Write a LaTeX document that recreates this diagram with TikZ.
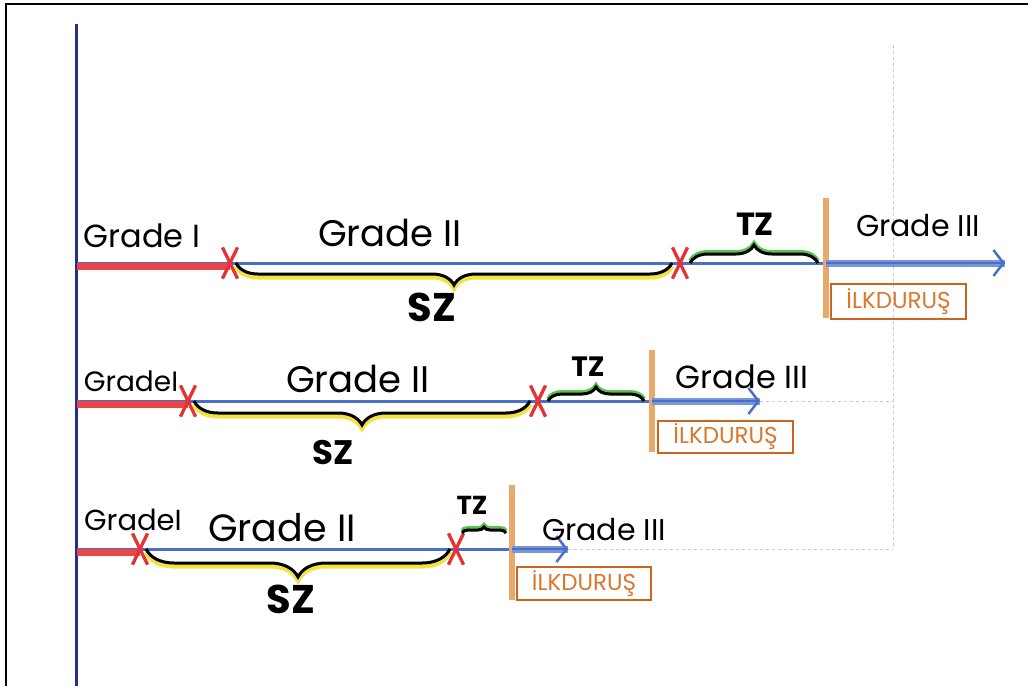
\documentclass[tikz,border=0pt]{standalone}
\usepackage{fontspec}
\setmainfont{Poppins}
\usepackage{tikz}
\usetikzlibrary{positioning, arrows.meta, shapes.misc, decorations.pathreplacing}

\definecolor{axisblue}{RGB}{40,45,140}
\definecolor{lineblue}{RGB}{74,111,200}
\definecolor{bandblue}{RGB}{120,150,215}
\definecolor{crossred}{RGB}{232,50,50}
\definecolor{bandred}{RGB}{235,70,70}
\definecolor{barorange}{RGB}{233,169,107}
\definecolor{boxorange}{RGB}{205,100,30}
\definecolor{textorange}{RGB}{215,120,45}
\definecolor{hlgreen}{RGB}{90,195,75}
\definecolor{hlyellow}{RGB}{242,227,64}
\definecolor{paperline}{RGB}{205,195,220}

\newcommand{\labelsize}[1]{\fontsize{#1}{#1}\selectfont}

\begin{document}
\begin{tikzpicture}[
        x=1pt, y=-1pt,
        gradelabel/.style={
            font=\labelsize{#1},
            inner sep=0pt
        },
        zonelabel/.style={
            font=\labelsize{#1}\bfseries,
            inner sep=0pt
        },
        crossmark/.style={
            cross out,
            draw=crossred,
            line width=3pt,
            minimum width=12pt,
            minimum height=28pt,
            inner sep=0pt
        },
        redline/.style={
            draw=bandred,
            line width=7pt,
            transform canvas={yshift=-3pt}
        },
        stageline/.style={
            draw=lineblue,
            line width=3pt
        },
        szbrace/.style={
            decorate,
            decoration={brace, mirror, amplitude=#1},
            draw=black,
            line width=3pt,
            preaction={draw=hlyellow, line width=5pt,
                transform canvas={yshift=-3pt}}
        },
        tzbrace/.style={
            decorate,
            decoration={brace, amplitude=#1},
            draw=black,
            line width=3pt,
            preaction={draw=hlgreen, line width=4pt,
                transform canvas={yshift=2pt}}
        },
        stopbar/.style={
            draw=barorange,
            line width=6pt
        },
        stopbox/.style={
            rectangle,
            draw=boxorange,
            line width=2pt,
            anchor=north west,
            text=textorange,
            font=\labelsize{23},
            inner sep=2pt
        },
        gradearrow/.style={
            draw=bandblue,
            line width=7pt,
            postaction={draw=lineblue, line width=2.5pt,
                -{Straight Barb[length=10pt, width=26pt]}}
        }
    ]

    \useasboundingbox (0,0) rectangle (1028,686);

    % Rahmen und Achse

    \draw[line width=2.5pt] (6,686) -- (6,4) -- (1028,4);
    \coordinate (axistop) at (76,24);
    \coordinate (axisbottom) at (76,686);
    \draw[draw=axisblue, line width=3pt] (axistop) -- (axisbottom);

    % Hilfslinien vom Papier

    \draw[paperline, dashed, line width=1pt] (893,45) -- (893,548);
    \draw[paperline, dashed, line width=1pt] (760,401) -- (893,401);
    \draw[paperline, dashed, line width=1pt] (568,549) -- (893,549);

    % Reihe 1

    \coordinate (start1) at (77,263);
    \node[crossmark] (cross1a) at (230,263) {};
    \node[crossmark] (cross1b) at (680,263) {};
    \coordinate (bar1) at (826,263);
    \coordinate (bartop1) at (826,198);
    \coordinate (barbottom1) at (826,318);
    \coordinate (end1) at (1005,263);

    \draw[stageline] (start1) -- (bar1);
    \draw[redline] (start1) -- (cross1a.center);
    \draw[stopbar] (bartop1) -- (barbottom1);
    \draw[gradearrow] (bar1) -- (end1);
    \node[stopbox, minimum width=135pt, minimum height=35pt]
        (stop1) at (830,283) {İLKDURUŞ};
    \node[crossmark] at (cross1a) {};
    \node[crossmark] at (cross1b) {};

    \draw[szbrace=22pt] ([xshift=6pt]cross1a.center) -- ([xshift=-8pt]cross1b.center);
    \draw[tzbrace=18pt] ([xshift=10pt]cross1b.center) -- ([xshift=-8pt]bar1);

    \node[gradelabel=32] (gradei1) at (142,236) {Grade I};
    \node[gradelabel=37] (gradeii1) at (390,233) {Grade II};
    \node[zonelabel=40] (sz1) at (432,307) {SZ};
    \node[zonelabel=32] (tz1) at (755,224) {TZ};
    \node[gradelabel=30] (gradeiii1) at (918,226) {Grade III};

    % Reihe 2

    \coordinate (start2) at (77,401);
    \node[crossmark] (cross2a) at (188,401) {};
    \node[crossmark] (cross2b) at (538,401) {};
    \coordinate (bar2) at (652,401);
    \coordinate (bartop2) at (652,350);
    \coordinate (barbottom2) at (652,452);
    \coordinate (end2) at (760,401);

    \draw[stageline] (start2) -- (bar2);
    \draw[redline] (start2) -- (cross2a.center);
    \draw[stopbar] (bartop2) -- (barbottom2);
    \draw[gradearrow] (bar2) -- (end2);
    \node[stopbox, minimum width=135pt, minimum height=32pt]
        (stop2) at (657,420) {İLKDURUŞ};
    \node[crossmark] at (cross2a) {};
    \node[crossmark] at (cross2b) {};

    \draw[szbrace=24pt] ([xshift=6pt]cross2a.center) -- ([xshift=-8pt]cross2b.center);
    \draw[tzbrace=14pt] ([xshift=10pt]cross2b.center) -- ([xshift=-8pt]bar2);

    \node[gradelabel=28] (gradei2) at (131,381) {GradeI};
    \node[gradelabel=37] (gradeii2) at (358,379) {Grade II};
    \node[zonelabel=34] (sz2) at (333,453) {SZ};
    \node[zonelabel=28] (tz2) at (588,367) {TZ};
    \node[gradelabel=32] (gradeiii2) at (742,377) {Grade III};

    % Reihe 3

    \coordinate (start3) at (77,549);
    \node[crossmark] (cross3a) at (140,549) {};
    \node[crossmark] (cross3b) at (456,549) {};
    \coordinate (bar3) at (512,549);
    \coordinate (bartop3) at (512,485);
    \coordinate (barbottom3) at (512,600);
    \coordinate (end3) at (568,549);

    \draw[stageline] (start3) -- (bar3);
    \draw[redline] (start3) -- (cross3a.center);
    \draw[stopbar] (bartop3) -- (barbottom3);
    \draw[gradearrow] (bar3) -- (end3);
    \node[stopbox, minimum width=134pt, minimum height=33pt]
        (stop3) at (516,566) {İLKDURUŞ};
    \node[crossmark] at (cross3a) {};
    \node[crossmark] at (cross3b) {};

    \draw[szbrace=28pt] ([xshift=6pt]cross3a.center) -- ([xshift=-6pt]cross3b.center);
    \draw[tzbrace=6pt, decoration={raise=16pt}] ([xshift=6pt]cross3b.center) -- ([xshift=-6pt]bar3);

    \node[gradelabel=29] (gradei3) at (133,520) {GradeI};
    \node[gradelabel=38] (gradeii3) at (282,528) {Grade II};
    \node[zonelabel=40] (sz3) at (291,599) {SZ};
    \node[zonelabel=26] (tz3) at (472,505) {TZ};
    \node[gradelabel=30] (gradeiii3) at (604,530) {Grade III};

\end{tikzpicture}
\end{document}
